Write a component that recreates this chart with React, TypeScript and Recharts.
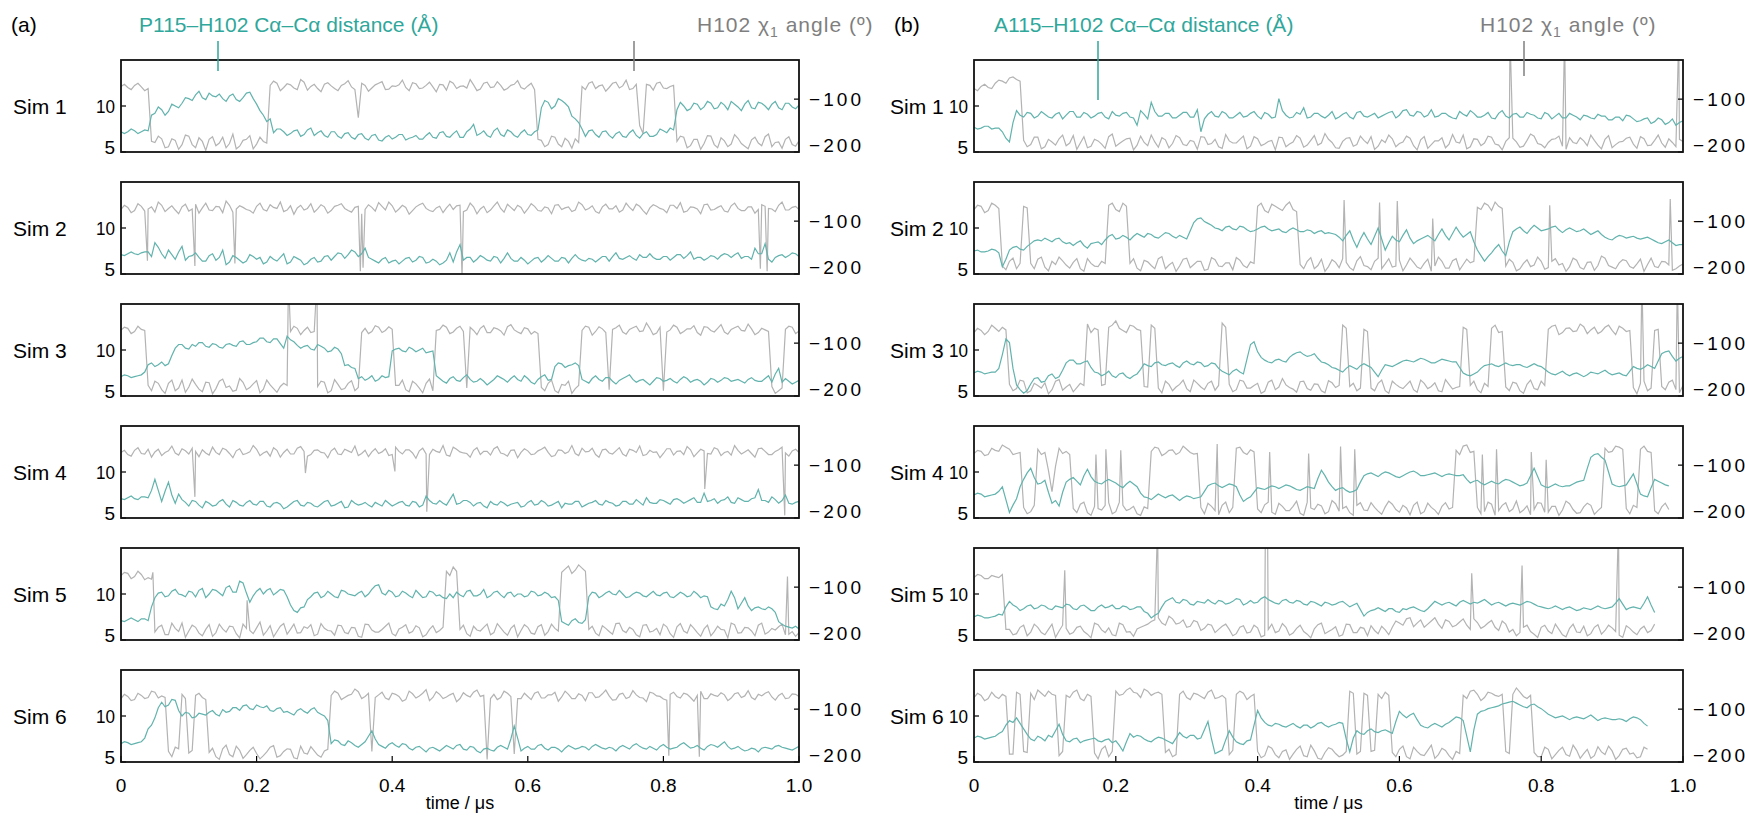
import React from 'react';
import { LineChart, Line, XAxis, YAxis } from 'recharts';

const FONT = '"Liberation Sans", Arial, Helvetica, sans-serif';
const TEAL = '#62b3ad';
const GRAY = '#b3b3b3';
const TEAL_TEXT = '#2fa79b';
const GRAY_TEXT = '#7f7f7f';

// time grid (µs); values between grid points are read at T + HALF
const T = [0,0.01,0.02,0.03,0.04,0.05,0.06,0.07,0.08,0.09,0.1,0.11,0.12,0.13,0.14,0.15,0.16,0.17,0.18,0.19,0.2,0.21,0.22,0.23,0.24,0.25,0.26,0.27,0.28,0.29,0.3,0.31,0.32,0.33,0.34,0.35,0.36,0.37,0.38,0.39,0.4,0.41,0.42,0.43,0.44,0.45,0.46,0.47,0.48,0.49,0.5,0.51,0.52,0.53,0.54,0.55,0.56,0.57,0.58,0.59,0.6,0.61,0.62,0.63,0.64,0.65,0.66,0.67,0.68,0.69,0.7,0.71,0.72,0.73,0.74,0.75,0.76,0.77,0.78,0.79,0.8,0.81,0.82,0.83,0.84,0.85,0.86,0.87,0.88,0.89,0.9,0.91,0.92,0.93,0.94,0.95,0.96,0.97,0.98,0.99,1];
const HALF = 0.005;
const X_TICKS = [0, 0.2, 0.4, 0.6, 0.8, 1.0];
const X_TICK_LABELS = ['0', '0.2', '0.4', '0.6', '0.8', '1.0'];
const DIST_TICKS = [5, 10];
const CHI_TICKS = [-200, -100];
const SIM_LABELS = ['Sim 1', 'Sim 2', 'Sim 3', 'Sim 4', 'Sim 5', 'Sim 6'];

// ---------- (a) P115 ----------
const a1Dist = [7.2,7.2,7.3,7.2,7.3,9.2,9.6,9.4,10.0,10.3,10.8,11.2,10.9,11.4,11.0,10.8,11.1,10.7,10.9,11.5,10.2,9.0,8.6,7.5,7.2,7.0,7.4,6.9,7.6,7.1,6.8,7.2,6.7,7.0,6.6,6.9,6.5,6.8,6.3,6.6,6.4,6.9,6.3,6.6,6.4,6.8,6.6,7.1,6.7,7.0,6.6,7.2,8.0,7.0,6.8,7.3,6.9,7.4,6.8,7.1,6.9,7.2,9.8,10.4,10.0,10.6,9.9,8.6,7.5,7.3,6.9,7.2,6.8,7.0,6.7,7.1,6.8,7.0,6.7,6.9,7.3,7.6,9.6,10.0,9.7,10.2,9.9,10.3,9.8,10.1,10.5,9.9,10.2,9.8,10.4,10.0,10.2,9.8,10.3,9.9,10.1];
const a1DistMid = [7.0,7.5,7.0,7.4,9.0,9.9,9.0,10.2,9.8,10.9,10.6,11.6,10.7,11.1,11.3,10.5,11.3,10.5,11.4,10.8,9.5,8.3,7.1,7.5,6.8,7.3,6.7,7.4,6.8,7.3,6.6,7.2,6.5,7.1,6.4,7.0,6.3,6.9,6.2,6.8,6.6,6.9,6.5,6.8,6.4,7.1,6.5,7.2,6.6,7.3,6.6,7.5,6.8,7.3,6.6,7.6,6.7,7.2,6.6,7.4,6.8,7.4,10.6,9.7,10.8,10.3,8.9,8.2,6.7,7.4,6.6,7.3,6.5,7.2,6.6,7.4,6.5,7.2,6.7,7.5,7.1,7.4,10.4,9.5,10.3,9.6,10.5,9.7,10.4,9.6,10.2,9.5,10.6,9.7,10.3,9.6,10.5,9.6,10.3,9.7];
const a1Chi = [-76,-78,-74,-77,-80,-182,-175,-190,-178,-186,-170,-192,-180,-176,-188,-172,-184,-194,-178,-169,-185,-180,-74,-70,-78,-73,-82,-68,-76,-80,-72,-75,-84,-71,-77,-135,-74,-79,-70,-82,-75,-73,-78,-69,-80,-74,-77,-72,-83,-70,-76,-79,-73,-81,-68,-77,-74,-80,-72,-78,-75,-82,-178,-186,-172,-190,-180,-175,-76,-70,-80,-73,-78,-68,-75,-82,-72,-165,-74,-70,-79,-76,-180,-172,-188,-176,-184,-170,-192,-179,-185,-174,-189,-177,-183,-171,-190,-181,-176,-186,-179];
const a1ChiMid = [-72,-82,-70,-84,-180,-170,-192,-175,-195,-168,-186,-173,-197,-171,-183,-192,-166,-189,-176,-194,-172,-183,-66,-84,-71,-79,-63,-83,-72,-86,-69,-80,-74,-65,-82,-70,-85,-73,-67,-81,-76,-64,-84,-71,-79,-68,-86,-73,-66,-80,-75,-63,-84,-70,-78,-67,-83,-74,-65,-81,-70,-176,-190,-170,-185,-174,-193,-182,-82,-67,-75,-85,-70,-79,-64,-80,-150,-72,-83,-68,-80,-74,-170,-192,-176,-195,-169,-186,-173,-190,-167,-184,-194,-172,-188,-166,-182,-193,-171,-189];
const a1Extra: number[][] = [];

const a2Dist = [7.1,7.2,7.2,7.3,7.4,8.4,7.2,7.6,6.6,8.0,6.9,7.3,6.4,7.0,6.5,7.6,6.3,6.8,6.2,7.1,6.6,6.1,6.9,6.4,7.2,6.3,6.7,6.0,6.6,6.3,6.9,6.5,7.3,6.7,7.6,6.9,7.8,6.6,6.2,6.8,6.4,6.1,6.7,6.3,6.9,6.2,6.6,6.0,6.5,6.3,8.2,6.8,6.3,7.0,6.5,6.9,6.2,7.3,6.4,6.8,6.1,6.7,6.3,7.0,6.4,6.8,6.2,7.1,6.5,6.7,6.3,6.9,6.4,7.3,6.6,7.0,6.5,6.8,7.2,6.6,6.9,6.5,7.1,6.7,7.4,6.8,6.5,7.0,6.6,7.2,6.8,7.3,6.9,6.6,7.2,8.3,6.3,7.0,6.8,7.3,6.9];
const a2DistMid = [7.0,7.4,7.1,7.4,6.9,7.9,6.7,7.1,7.4,6.5,7.0,6.8,6.4,7.2,6.8,6.0,7.0,6.5,6.4,6.9,6.8,6.3,6.6,6.8,6.1,6.9,6.5,6.2,6.8,6.4,7.0,6.9,7.2,7.1,7.4,7.2,6.8,6.4,6.6,6.2,6.5,6.4,6.8,6.5,6.8,6.3,6.4,6.2,7.3,7.4,6.5,6.8,6.6,6.8,6.4,6.8,6.7,6.7,6.4,6.5,6.4,6.8,6.6,6.7,6.4,6.7,6.7,6.7,6.4,6.6,6.6,6.9,6.9,6.7,6.8,6.7,7.1,6.8,6.8,6.6,6.9,6.8,7.1,7.0,6.6,6.8,6.7,6.9,7.0,7.1,7.1,6.7,6.9,7.8,7.2,6.6,6.8,7.1,7.0,7.2];
const a2Chi = [-78,-74,-80,-72,-77,-83,-70,-76,-79,-73,-81,-68,-75,-79,-72,-84,-70,-77,-74,-80,-72,-78,-69,-76,-82,-71,-75,-79,-67,-77,-73,-80,-70,-76,-83,-72,-78,-74,-65,-79,-71,-77,-74,-80,-69,-76,-82,-72,-75,-78,-70,-79,-73,-77,-84,-71,-76,-68,-80,-74,-77,-72,-81,-75,-70,-78,-73,-79,-69,-76,-82,-73,-77,-71,-79,-74,-68,-80,-75,-72,-78,-70,-76,-83,-73,-77,-69,-79,-74,-81,-71,-76,-80,-73,-78,-72,-77,-70,-79,-74,-78];
const a2ChiMid = [-70,-84,-67,-81,-73,-64,-82,-71,-86,-68,-77,-85,-66,-80,-73,-62,-83,-71,-78,-85,-66,-81,-74,-64,-79,-87,-70,-76,-83,-69,-85,-72,-67,-80,-74,-86,-69,-81,-72,-64,-83,-70,-87,-73,-66,-80,-75,-84,-68,-71,-82,-66,-86,-72,-79,-64,-83,-74,-70,-85,-67,-80,-73,-86,-69,-75,-82,-64,-79,-71,-85,-68,-77,-83,-66,-80,-72,-87,-69,-76,-84,-70,-65,-81,-74,-86,-68,-78,-71,-83,-66,-80,-73,-85,-69,-76,-82,-64,-79,-72];
const a2Extra = [[0.039,-175],[0.109,-185],[0.168,-180],[0.353,-195],[0.357,-188],[0.503,-205],[0.943,-190],[0.953,-195]];

const a3Dist = [7.1,7.2,7.1,7.3,8.4,8.2,8.7,8.5,10.2,10.6,10.1,10.4,10.8,10.3,10.6,10.2,10.7,10.4,11.0,10.6,10.9,11.3,10.8,11.2,10.2,11.1,10.5,10.4,10.1,10.6,10.2,9.9,10.1,8.3,8.1,6.9,6.7,7.2,6.8,7.0,9.9,10.2,9.8,10.1,10.0,9.7,9.9,6.9,6.4,7.1,6.6,7.3,6.5,6.9,6.2,6.8,7.0,6.5,7.2,6.6,6.9,6.3,7.1,6.7,8.2,8.5,8.3,8.6,6.8,6.4,7.2,6.6,7.0,6.3,6.9,7.3,6.5,6.8,6.2,7.0,6.6,6.9,6.4,7.1,6.5,6.8,6.2,6.9,6.5,7.0,6.6,6.8,6.4,7.0,6.6,6.9,6.5,8.0,6.9,6.3,6.7];
const a3DistMid = [7.3,7.0,7.2,7.6,8.6,8.4,8.3,9.4,10.6,10.2,10.6,10.8,10.4,10.7,10.3,10.6,10.5,10.9,10.6,10.8,11.3,10.9,11.2,10.7,11.5,10.9,10.2,10.5,10.0,10.4,9.8,10.3,9.6,8.4,8.0,7.1,6.9,6.6,7.2,7.1,10.1,9.9,10.3,9.8,10.2,9.8,7.2,6.6,6.9,6.7,7.0,6.8,6.6,6.6,6.5,7.2,6.8,6.9,6.8,7.2,6.5,6.8,7.3,6.8,8.6,8.1,8.4,8.3,6.6,6.9,6.8,7.0,6.6,6.7,7.1,6.8,6.7,6.5,6.6,6.9,6.7,6.6,6.8,6.9,6.7,6.6,6.5,6.8,6.7,6.9,6.7,6.6,6.8,6.7,6.6,7.2,7.4,6.5,6.6,6.5];
const a3Chi = [-75,-72,-78,-74,-180,-172,-188,-176,-190,-170,-183,-178,-192,-175,-186,-168,-181,-189,-174,-184,-171,-187,-179,-193,-176,-78,-72,-76,-80,-182,-174,-190,-178,-186,-171,-184,-72,-78,-70,-76,-74,-180,-188,-172,-185,-176,-190,-74,-70,-79,-68,-185,-76,-72,-80,-71,-77,-69,-75,-82,-73,-78,-184,-176,-190,-178,-172,-186,-76,-70,-78,-73,-188,-71,-79,-74,-68,-77,-72,-81,-190,-75,-70,-78,-73,-80,-69,-76,-72,-79,-74,-68,-77,-73,-80,-75,-182,-190,-74,-70,-77];
const a3ChiMid = [-70,-82,-68,-76,-190,-176,-195,-170,-185,-193,-168,-187,-174,-196,-172,-184,-191,-167,-188,-177,-194,-170,-186,-182,-180,-68,-84,-70,-78,-172,-194,-169,-188,-176,-190,-80,-82,-67,-80,-69,-180,-170,-192,-177,-194,-168,-76,-66,-82,-72,-78,-70,-84,-67,-80,-73,-85,-65,-79,-71,-83,-82,-190,-170,-194,-180,-195,-180,-68,-85,-69,-80,-74,-66,-83,-71,-78,-62,-84,-70,-79,-66,-82,-73,-67,-85,-70,-79,-65,-83,-71,-76,-64,-84,-72,-78,-195,-185,-68,-82];
const a3Extra = [[0.247, 20],[0.289, 20]];

const a4Dist = [7.1,7.2,7.1,7.3,7.2,9.2,6.8,8.9,6.6,7.0,6.3,6.8,6.1,6.6,6.4,7.0,6.2,6.7,6.3,6.9,6.4,6.8,6.2,6.7,6.0,6.5,6.9,6.3,6.6,6.2,6.8,6.3,6.6,6.1,6.9,6.4,6.7,6.2,6.5,6.9,6.3,6.7,6.4,6.8,6.2,7.4,6.6,6.9,6.4,7.6,6.6,6.9,6.3,6.7,6.1,6.5,6.8,6.3,6.6,6.2,6.7,6.4,6.9,6.3,6.6,6.1,6.5,6.8,6.2,6.6,6.9,6.4,6.7,6.3,6.8,6.5,7.0,6.4,6.7,6.6,6.9,6.5,7.1,6.6,7.0,6.7,7.7,6.9,6.6,7.0,6.7,7.2,6.8,7.1,8.1,6.9,7.3,6.6,7.5,6.5,6.8];
const a4DistMid = [7.0,7.4,7.0,7.3,8.0,8.0,7.9,7.5,7.6,6.7,6.9,6.4,6.8,6.3,6.8,6.5,6.9,6.4,6.7,6.5,6.8,6.3,6.6,6.5,6.2,6.8,6.4,6.7,6.3,6.5,6.9,6.4,6.8,6.2,6.6,6.5,6.4,6.7,6.3,6.6,6.5,6.8,6.3,6.7,6.4,6.9,6.5,6.6,7.0,6.5,6.9,6.7,6.6,6.3,6.8,6.4,6.6,6.5,6.7,6.3,6.9,6.5,6.7,6.4,6.8,6.6,6.5,6.8,6.4,6.7,6.5,6.9,6.6,6.4,6.8,6.5,6.7,7.2,6.6,7.0,6.7,7.0,6.9,6.8,7.2,6.7,6.8,7.1,6.9,7.3,6.6,7.0,6.8,7.2,6.9,6.7,7.0,6.9,6.6,6.7];
const a4Chi = [-76,-80,-72,-78,-70,-75,-82,-73,-77,-69,-79,-74,-71,-81,-76,-68,-78,-73,-80,-75,-70,-77,-83,-72,-76,-79,-68,-74,-80,-71,-77,-73,-79,-70,-76,-82,-72,-75,-78,-69,-80,-74,-71,-77,-73,-79,-70,-76,-81,-66,-75,-78,-72,-80,-74,-69,-77,-83,-71,-76,-73,-79,-70,-76,-82,-72,-75,-78,-68,-74,-80,-71,-77,-73,-79,-70,-76,-82,-72,-75,-78,-69,-74,-80,-71,-77,-73,-79,-70,-76,-81,-72,-75,-78,-69,-74,-80,-71,-77,-73,-76];
const a4ChiMid = [-72,-83,-67,-79,-85,-70,-76,-64,-81,-73,-68,-84,-77,-66,-80,-71,-86,-69,-78,-63,-82,-74,-67,-85,-70,-79,-65,-83,-72,-76,-86,-68,-80,-73,-64,-78,-84,-69,-75,-82,-66,-79,-71,-87,-68,-80,-74,-63,-83,-70,-77,-85,-67,-74,-81,-65,-79,-72,-86,-69,-80,-73,-66,-84,-71,-78,-63,-82,-75,-68,-85,-70,-79,-67,-83,-72,-64,-80,-76,-86,-69,-81,-73,-65,-84,-70,-78,-67,-82,-74,-63,-79,-71,-85,-68,-80,-74,-66,-83,-70];
const a4Extra = [[0.109,-160],[0.272,-115],[0.404,-112],[0.451,-188],[0.861,-145],[0.979,-195]];

const a5Dist = [7.1,7.2,7.2,7.3,7.1,9.6,10.2,9.8,10.5,9.9,10.3,9.7,10.6,10.0,10.4,9.8,10.9,10.2,11.2,9.1,10.3,10.0,10.6,10.2,10.4,8.8,8.0,8.6,9.7,10.2,9.8,10.0,9.6,10.3,9.9,10.1,9.7,10.5,11.0,9.9,10.2,9.8,10.1,9.6,10.0,9.7,10.2,9.9,9.5,9.6,9.9,10.3,9.8,10.0,9.6,10.2,9.9,10.1,9.7,10.0,9.8,10.2,9.9,10.0,9.7,7.0,6.6,7.3,6.8,9.7,10.1,9.8,10.3,9.9,10.0,9.7,10.2,9.8,10.0,9.9,10.1,9.7,9.9,10.0,9.8,10.0,9.8,8.6,8.3,8.7,10.3,8.4,9.6,8.2,8.6,8.3,8.4,7.0,6.5,6.3,6.2];
const a5DistMid = [7.0,7.4,7.0,7.3,8.6,10.1,9.7,10.3,10.0,9.7,10.2,10.4,9.6,10.5,10.1,10.7,10.2,11.4,10.1,9.8,10.6,10.4,9.9,10.5,9.7,8.2,8.5,9.4,10.1,9.6,10.3,9.7,10.4,10.0,9.8,10.3,10.0,10.9,10.1,10.4,9.7,10.3,9.8,10.4,9.6,10.3,9.8,9.6,10.0,10.2,9.7,10.4,9.8,10.5,9.8,10.3,9.6,10.2,10.0,9.7,10.3,9.8,10.2,9.6,9.3,6.8,7.1,6.9,7.2,10.2,9.6,10.1,10.0,10.4,9.6,10.0,10.1,9.7,10.3,9.8,10.2,9.6,10.2,9.7,10.3,9.6,9.7,8.4,8.9,9.4,9.6,9.0,8.7,8.5,8.4,8.6,8.0,6.7,6.4,6.5];
const a5Chi = [-78,-74,-80,-76,-82,-185,-172,-190,-178,-168,-183,-176,-192,-171,-186,-179,-174,-188,-170,-182,-177,-191,-173,-184,-169,-180,-187,-175,-171,-189,-178,-183,-172,-186,-176,-193,-170,-181,-185,-174,-188,-179,-171,-184,-177,-190,-173,-182,-70,-62,-180,-188,-174,-183,-170,-186,-177,-191,-172,-182,-176,-189,-171,-184,-178,-72,-60,-68,-64,-180,-187,-173,-184,-169,-182,-176,-190,-172,-185,-178,-170,-188,-175,-183,-171,-186,-179,-192,-174,-181,-168,-187,-176,-183,-172,-189,-178,-175,-190,-184,-186];
const a5ChiMid = [-72,-84,-70,-86,-85,-176,-190,-168,-184,-195,-172,-187,-180,-193,-170,-185,-175,-196,-178,-188,-166,-183,-194,-174,-189,-170,-186,-178,-192,-169,-182,-191,-173,-188,-177,-195,-171,-185,-180,-168,-192,-176,-187,-173,-194,-180,-186,-176,-78,-70,-172,-193,-181,-176,-190,-169,-185,-178,-194,-171,-187,-175,-191,-170,-183,-66,-74,-58,-70,-174,-192,-178,-189,-168,-186,-180,-194,-171,-183,-190,-175,-195,-169,-187,-178,-193,-172,-184,-180,-196,-171,-186,-177,-192,-168,-185,-181,-170,-189,-193];
const a5Extra = [[0.047,-72],[0.186,-125],[0.983,-80]];

const a6Dist = [7.0,7.1,7.0,7.2,8.6,9.8,11.5,11.2,11.7,10.0,10.3,9.9,10.2,10.4,10.2,10.7,10.5,10.9,11.1,10.8,11.2,10.9,10.6,10.8,10.4,10.3,10.6,10.5,10.7,10.4,10.0,7.0,7.3,6.8,7.1,6.6,7.2,8.4,6.9,6.5,7.1,6.6,6.9,6.3,6.7,6.1,6.6,6.2,6.8,6.4,6.9,6.3,6.6,6.0,6.5,6.2,6.8,6.4,8.9,6.2,6.7,6.4,6.9,6.3,6.6,6.1,6.8,6.4,6.7,6.3,6.9,6.5,6.6,6.2,6.8,6.4,7.0,6.5,6.7,6.3,6.9,6.4,6.6,7.1,6.5,6.8,6.3,6.9,6.6,7.2,6.4,6.7,6.2,6.5,6.1,6.6,6.4,6.8,6.5,6.3,6.7];
const a6DistMid = [7.2,6.9,7.1,7.6,9.0,10.9,11.0,11.8,10.6,10.4,9.8,10.3,10.1,10.6,10.0,10.4,10.9,10.6,11.2,10.7,11.0,11.1,10.5,10.9,10.5,10.1,10.8,10.3,10.9,10.2,9.5,7.4,6.9,7.3,6.8,6.9,7.8,7.5,6.7,6.9,6.8,7.0,6.5,6.6,6.4,6.5,6.4,6.5,6.6,6.8,6.4,6.7,6.2,6.4,6.3,6.6,6.6,7.5,7.6,6.5,6.4,6.8,6.5,6.6,6.4,6.5,6.6,6.5,6.6,6.7,6.7,6.4,6.5,6.6,6.6,6.8,6.7,6.4,6.5,6.7,6.6,6.5,6.9,6.8,6.6,6.5,6.7,6.8,6.9,6.7,6.5,6.4,6.3,6.4,6.5,6.5,6.7,6.6,6.4,6.5];
const a6Chi = [-80,-76,-82,-74,-78,-68,-75,-180,-172,-72,-183,-74,-78,-182,-190,-175,-186,-170,-193,-178,-184,-188,-172,-191,-180,-176,-194,-183,-171,-187,-179,-74,-70,-78,-72,-67,-76,-180,-73,-79,-70,-76,-82,-71,-75,-63,-78,-72,-77,-70,-80,-74,-68,-76,-195,-72,-78,-70,-185,-80,-76,-70,-79,-73,-68,-77,-72,-80,-74,-69,-78,-71,-75,-82,-70,-77,-73,-79,-68,-75,-81,-72,-76,-70,-78,-74,-80,-71,-76,-73,-79,-69,-75,-78,-72,-70,-77,-74,-80,-71,-76];
const a6ChiMid = [-72,-84,-70,-80,-66,-79,-78,-190,-175,-80,-178,-70,-82,-174,-195,-168,-190,-178,-186,-172,-194,-181,-169,-188,-175,-192,-170,-185,-179,-191,-176,-66,-82,-74,-62,-80,-70,-78,-68,-82,-72,-85,-66,-79,-70,-84,-67,-80,-73,-86,-69,-77,-64,-74,-80,-82,-66,-76,-80,-70,-82,-67,-79,-73,-85,-66,-80,-71,-84,-69,-77,-64,-83,-72,-80,-65,-78,-86,-70,-76,-83,-68,-79,-72,-85,-66,-80,-74,-69,-84,-71,-78,-65,-82,-75,-67,-83,-70,-79,-72];
const a6Extra = [[0.808,-188],[0.853,-190]];

// ---------- (b) A115 ----------
const b1Dist = [7.7,7.6,7.8,7.6,7.2,6.1,9.5,8.8,9.2,8.9,9.1,8.7,9.3,9.0,9.4,8.8,9.1,8.9,9.3,8.6,9.0,9.2,8.8,7.9,9.1,10.4,8.9,9.2,8.7,9.0,9.3,8.8,7.2,9.1,8.9,9.4,8.7,9.0,8.8,9.2,8.9,9.3,8.7,10.8,9.0,8.8,9.1,8.7,9.2,8.9,9.0,8.6,9.1,8.8,9.3,8.9,9.0,8.7,9.1,9.4,9.0,9.6,8.9,9.3,9.0,8.8,9.2,8.9,8.6,9.1,9.5,8.8,9.0,8.7,9.2,8.9,9.1,8.8,9.3,9.0,8.6,9.1,8.9,8.7,9.2,8.8,9.0,8.7,9.1,8.9,8.5,8.8,9.0,8.6,8.4,8.7,8.3,8.5,8.2,7.9,8.4];
const b1DistMid = [7.5,7.8,7.5,7.6,6.5,8.2,9.0,9.3,8.7,9.4,8.8,9.1,8.6,9.4,8.8,9.3,8.7,9.2,8.8,9.4,8.9,9.3,8.7,9.5,8.6,9.4,8.9,9.2,8.7,9.3,8.8,9.6,8.6,9.4,8.8,9.2,8.7,9.3,8.9,9.4,8.6,9.1,8.8,9.5,8.7,9.3,9.8,8.8,9.2,8.7,9.4,8.8,9.3,8.6,9.4,8.8,9.2,8.9,9.3,8.7,9.5,9.0,9.4,8.8,9.6,8.9,9.2,8.7,9.4,8.9,9.2,8.8,9.3,8.6,9.5,8.7,9.2,8.8,9.1,8.7,9.3,8.6,9.2,8.7,9.0,8.5,8.9,8.6,8.9,8.5,8.8,8.4,8.9,8.3,8.6,8.1,8.7,8.0,8.6,8.2];
const b1Chi = [-80,-76,-78,-70,-66,-60,-63,-178,-186,-172,-190,-181,-175,-188,-169,-183,-192,-176,-185,-171,-189,-179,-174,-187,-182,-168,-191,-177,-184,-173,-188,-180,-171,-186,-176,-193,-179,-183,-170,-189,-175,-185,-178,-172,-190,-181,-174,-187,-169,-183,-176,-192,-180,-173,-186,-178,-171,-189,-182,-175,-184,-170,-188,-177,-193,-179,-173,-185,-181,-168,-190,-176,-183,-172,-187,-180,-174,-191,-178,-170,-186,-182,-175,-189,-173,-184,-179,-168,-187,-176,-192,-181,-174,-185,-171,-188,-178,-183,-175,-190,-180];
const b1ChiMid = [-84,-72,-80,-64,-70,-58,-66,-190,-172,-194,-176,-187,-168,-183,-195,-171,-189,-179,-193,-166,-184,-175,-196,-170,-188,-181,-173,-192,-169,-186,-178,-195,-172,-184,-190,-167,-183,-176,-194,-171,-188,-180,-196,-173,-185,-169,-191,-178,-187,-165,-182,-193,-174,-189,-170,-184,-195,-177,-168,-190,-181,-174,-196,-171,-186,-179,-192,-167,-183,-194,-175,-188,-170,-185,-196,-173,-181,-189,-166,-184,-192,-176,-170,-195,-182,-173,-188,-178,-194,-169,-186,-180,-172,-193,-175,-187,-168,-191,-182,-176];
const b1Extra = [[0.756, 20],[0.833, 20],[0.994, 20]];

const b2Dist = [7.5,7.4,7.5,7.6,5.8,7.6,8.0,7.6,8.3,8.7,8.9,8.5,8.9,8.3,8.1,8.6,7.8,8.4,8.2,9.1,8.8,9.2,8.7,9.4,9.0,9.3,8.9,9.5,9.1,9.2,8.8,10.6,11.1,10.5,10.0,9.7,10.2,9.8,10.1,9.6,9.9,10.2,9.7,9.9,9.5,10.0,9.6,9.8,9.4,9.7,9.5,9.3,8.6,9.7,7.9,9.5,8.2,10.0,7.6,9.1,8.5,9.8,8.3,8.8,9.2,8.6,9.9,8.7,10.1,9.0,9.6,7.6,6.4,7.3,8.2,7.0,9.6,10.1,9.4,10.3,9.7,9.9,10.2,9.5,10.0,9.6,9.9,9.3,9.7,9.0,8.7,9.2,8.9,9.1,8.8,9.0,8.6,8.3,8.7,8.1,8.2];
const b2DistMid = [7.6,7.4,7.7,7.3,6.6,7.9,7.7,8.0,8.6,8.6,8.7,8.8,8.5,8.4,8.4,8.1,8.3,8.5,8.7,9.3,8.9,9.0,9.1,9.2,9.4,9.0,9.2,9.4,8.9,9.0,9.7,11.0,10.7,10.3,9.9,10.1,9.9,10.2,9.8,9.7,10.1,9.9,9.8,9.6,9.8,9.8,9.6,9.7,9.6,9.4,9.4,9.0,9.2,8.7,8.8,8.8,9.1,8.8,8.4,8.7,9.2,8.9,8.6,9.0,8.9,9.3,9.2,9.4,9.5,9.3,8.5,7.0,6.9,7.8,7.5,8.5,9.9,9.7,9.9,10.0,9.8,10.1,9.8,9.8,9.8,9.7,9.6,9.5,9.3,8.8,9.0,9.1,9.0,8.9,8.9,8.8,8.4,8.5,8.4,8.2];
const b2Chi = [-78,-72,-80,-70,-185,-176,-190,-72,-180,-172,-187,-176,-168,-183,-178,-190,-171,-185,-176,-70,-78,-66,-180,-189,-174,-184,-171,-190,-178,-185,-170,-182,-176,-191,-173,-186,-179,-169,-184,-177,-72,-80,-68,-76,-70,-78,-182,-176,-190,-172,-186,-178,-171,-188,-175,-184,-192,-170,-181,-187,-174,-183,-178,-190,-172,-185,-176,-189,-171,-182,-179,-74,-66,-80,-72,-185,-178,-190,-173,-183,-176,-188,-171,-180,-186,-174,-191,-177,-184,-170,-187,-179,-175,-189,-172,-182,-186,-176,-183,-190,-181];
const b2ChiMid = [-70,-84,-66,-76,-192,-170,-180,-75,-190,-168,-194,-182,-175,-189,-171,-195,-180,-186,-180,-66,-82,-72,-171,-194,-177,-190,-167,-183,-195,-172,-188,-176,-193,-169,-185,-179,-192,-174,-188,-180,-66,-84,-72,-80,-64,-82,-190,-169,-184,-195,-173,-188,-178,-193,-167,-186,-176,-190,-171,-185,-194,-170,-187,-180,-195,-168,-189,-175,-192,-172,-176,-78,-70,-64,-76,-172,-194,-180,-186,-168,-191,-176,-183,-195,-170,-188,-178,-193,-166,-184,-190,-173,-186,-181,-195,-170,-188,-177,-193,-185];
const b2Extra = [[0.522,-60],[0.572,-65],[0.597,-62],[0.647,-95],[0.812,-70],[0.982,-58]];

const b3Dist = [7.5,7.6,7.5,7.6,9.5,10.8,6.2,5.3,6.3,7.0,6.6,7.4,7.1,8.6,8.9,8.5,8.8,7.6,7.2,7.7,7.0,7.5,6.9,7.4,8.5,8.2,8.7,8.3,8.6,8.1,8.8,8.4,8.6,8.3,8.5,7.7,7.3,7.9,7.4,10.6,9.8,8.9,8.6,9.0,8.7,9.5,9.8,9.3,9.6,8.7,8.4,8.0,7.6,8.3,7.9,8.5,8.1,7.1,8.4,8.2,8.6,8.9,8.7,9.1,8.8,8.6,9.0,8.8,8.7,7.5,7.2,7.6,8.3,8.5,8.2,8.6,8.3,8.4,8.1,8.5,8.2,7.6,7.3,7.7,7.2,7.5,7.1,7.6,7.4,7.8,7.3,7.5,7.2,8.2,7.9,8.4,8.0,9.6,9.9,8.8,9.3];
const b3DistMid = [7.7,7.4,7.6,8.0,11.2,8.0,5.7,5.6,6.9,6.5,7.2,6.9,7.8,8.9,8.5,8.7,8.1,7.5,7.4,7.2,7.4,7.1,7.2,7.9,8.3,8.6,8.4,8.5,8.3,8.6,8.5,8.7,8.2,8.6,8.0,7.5,7.7,7.6,9.0,10.9,9.2,8.7,8.9,8.8,9.2,9.7,9.5,9.4,9.1,8.6,8.1,7.8,8.0,8.1,8.3,8.3,7.6,7.8,8.3,8.4,8.8,8.8,8.9,9.0,8.6,8.8,8.9,8.7,8.1,7.3,7.4,8.0,8.4,8.3,8.4,8.4,8.4,8.2,8.3,8.3,7.9,7.4,7.5,7.4,7.4,7.3,7.3,7.5,7.6,7.5,7.4,7.3,7.7,8.0,8.1,8.2,8.8,9.8,9.3,9.1];
const b3Chi = [-80,-76,-78,-72,-70,-178,-186,-172,-190,-180,-175,-188,-169,-183,-192,-176,-64,-72,-180,-70,-58,-76,-66,-74,-182,-66,-185,-172,-190,-178,-186,-170,-183,-176,-189,-62,-178,-188,-172,-185,-176,-191,-170,-183,-179,-187,-173,-186,-177,-190,-171,-184,-66,-182,-190,-74,-185,-176,-190,-172,-183,-179,-188,-170,-186,-175,-192,-178,-184,-70,-180,-188,-176,-72,-80,-183,-174,-190,-178,-186,-172,-74,-66,-80,-71,-77,-69,-75,-82,-70,-76,-68,-78,-184,-176,-190,-76,-182,-174,-188,-180];
const b3ChiMid = [-72,-84,-66,-78,-75,-190,-170,-194,-176,-185,-196,-172,-189,-178,-184,-180,-80,-75,-178,-66,-72,-80,-68,-76,-183,-72,-194,-178,-183,-170,-192,-176,-188,-172,-180,-70,-192,-170,-185,-180,-195,-174,-188,-167,-184,-193,-172,-189,-178,-194,-175,-180,-72,-176,-185,-78,-190,-170,-195,-178,-186,-172,-193,-176,-182,-190,-169,-187,-182,-74,-172,-194,-182,-66,-78,-190,-176,-195,-170,-188,-180,-68,-84,-72,-78,-64,-82,-70,-78,-66,-84,-72,-76,-196,-172,-185,-74,-188,-170,-194];
const b3Extra = [[0.942, 20],[0.992, 20]];

const b4Dist = [7.5,7.6,7.4,7.6,8.4,5.6,7.1,9.2,10.4,8.7,9.1,6.6,6.3,8.9,9.4,8.6,10.3,9.0,8.7,9.2,8.8,8.3,9.0,8.4,7.3,7.0,7.6,7.2,7.5,6.9,7.4,7.1,7.3,8.5,8.8,8.3,8.7,8.4,6.8,7.3,8.3,8.1,8.5,8.2,8.6,8.3,8.0,8.4,8.2,10.2,8.9,8.0,8.3,7.8,8.1,9.6,9.9,9.5,10.0,9.7,9.4,9.8,10.1,9.6,9.7,9.9,9.5,9.8,9.6,9.7,8.8,9.1,8.6,9.0,8.7,9.2,8.9,8.5,8.8,10.4,8.6,8.3,8.7,8.4,8.5,8.9,9.1,11.6,12.0,11.3,8.7,8.4,8.6,9.8,7.6,7.3,9.2,8.8,8.5];
const b4DistMid = [7.7,7.3,7.5,7.9,7.0,6.4,8.4,9.9,9.4,8.8,7.8,6.9,7.8,9.2,9.0,9.6,9.5,8.8,9.0,9.0,8.5,8.7,8.7,7.7,7.2,7.3,7.4,7.4,7.2,7.2,7.3,7.2,7.9,8.7,8.5,8.5,8.6,7.5,7.1,7.8,8.2,8.3,8.4,8.4,8.5,8.1,8.2,8.3,9.3,9.6,8.4,8.2,8.0,7.9,8.9,9.8,9.7,9.8,9.9,9.5,9.6,10.0,9.9,9.6,9.8,9.7,9.7,9.7,9.6,9.2,9.0,8.8,8.8,8.8,9.0,9.1,8.7,8.6,9.6,9.5,8.4,8.5,8.5,8.5,8.7,9.0,10.4,11.9,11.6,10.0,8.5,8.5,9.2,8.7,7.4,8.3,9.0,8.6];
const b4Chi = [-78,-74,-80,-72,-62,-70,-78,-180,-188,-70,-76,-150,-68,-74,-182,-174,-190,-178,-185,-171,-188,-176,-183,-192,-179,-74,-68,-78,-71,-76,-70,-79,-180,-172,-186,-176,-190,-68,-76,-71,-183,-175,-189,-172,-186,-178,-191,-170,-184,-177,-188,-173,-182,-190,-176,-185,-171,-187,-179,-174,-189,-181,-176,-192,-172,-185,-178,-183,-72,-64,-76,-180,-188,-174,-186,-171,-183,-190,-177,-184,-172,-189,-178,-185,-173,-191,-179,-176,-186,-68,-74,-66,-182,-176,-70,-74,-186,-179,-184];
const b4ChiMid = [-72,-82,-68,-74,-66,-80,-76,-192,-176,-80,-110,-102,-78,-80,-190,-170,-195,-182,-176,-192,-170,-186,-178,-195,-182,-66,-82,-72,-80,-64,-76,-78,-192,-178,-194,-170,-180,-66,-80,-75,-190,-170,-193,-178,-186,-168,-195,-181,-174,-192,-167,-187,-178,-195,-171,-186,-180,-193,-168,-184,-176,-194,-170,-188,-180,-193,-171,-180,-80,-62,-74,-192,-170,-195,-176,-188,-168,-185,-194,-171,-189,-178,-195,-168,-184,-190,-172,-193,-180,-76,-64,-70,-192,-180,-64,-76,-192,-172];
const b4Extra = [[0.172,-80],[0.186,-70],[0.207,-72],[0.343,-60],[0.417,-75],[0.472,-78],[0.517,-65],[0.537,-70],[0.717,-80],[0.737,-70],[0.786,-75],[0.807,-90]];

const b5Dist = [7.5,7.6,7.4,7.6,7.7,9.2,8.6,8.4,8.8,8.5,8.7,8.3,8.6,8.9,8.4,8.7,8.5,8.2,8.8,8.6,8.4,8.7,8.3,8.6,8.1,7.4,7.9,9.2,9.6,9.0,9.3,8.8,9.1,9.4,8.9,9.2,9.0,9.5,8.8,9.3,9.1,9.7,9.2,8.9,9.4,9.0,9.2,8.8,9.1,8.7,9.0,8.9,9.2,8.6,9.0,7.6,8.2,8.5,8.1,8.4,8.0,8.3,8.6,8.2,8.4,9.2,8.8,9.1,8.7,9.3,8.9,9.0,9.4,8.8,9.1,8.7,9.0,8.8,9.2,8.9,8.6,8.4,8.7,8.3,8.6,8.2,8.5,8.3,8.7,8.4,8.6,9.5,8.3,8.6,8.4,9.7,8.0];
const b5DistMid = [7.7,7.4,7.5,7.8,8.6,8.8,8.2,8.7,8.4,8.8,8.4,8.7,8.5,8.8,8.3,8.8,8.2,8.6,8.5,8.8,8.4,8.6,8.4,8.6,7.9,7.7,8.6,9.4,9.1,9.4,8.9,9.2,9.0,9.1,9.3,8.9,9.2,9.4,9.0,9.0,9.5,9.4,9.0,9.3,9.1,9.3,8.9,9.2,8.9,9.1,8.8,9.1,8.9,8.8,8.3,8.0,8.3,8.3,8.4,8.1,8.4,8.5,8.4,8.1,8.8,9.0,9.0,8.9,9.1,9.1,9.1,9.2,9.1,9.0,8.9,8.9,8.9,9.0,9.1,8.7,8.5,8.5,8.5,8.5,8.4,8.3,8.4,8.5,8.5,8.5,9.0,8.9,8.5,8.5,9.0,8.8];
const b5Chi = [-82,-78,-84,-80,-76,-180,-188,-172,-185,-176,-190,-170,-183,-178,-186,-174,-189,-168,-181,-177,-192,-171,-184,-179,-173,-165,-158,-172,-160,-168,-176,-163,-182,-170,-186,-174,-180,-188,-173,-185,-177,-191,-170,-183,-176,-187,-172,-189,-179,-168,-184,-175,-190,-171,-186,-178,-173,-188,-181,-176,-168,-160,-175,-162,-170,-158,-178,-165,-172,-160,-180,-167,-174,-163,-182,-170,-180,-186,-172,-189,-176,-183,-170,-190,-178,-185,-174,-188,-171,-182,-177,-191,-173,-185,-179,-186,-170];
const b5ChiMid = [-76,-84,-78,-82,-180,-190,-176,-192,-170,-186,-180,-195,-172,-189,-176,-184,-196,-171,-186,-190,-168,-185,-193,-176,-170,-162,-168,-155,-170,-162,-174,-166,-178,-172,-180,-170,-192,-176,-187,-172,-194,-180,-186,-169,-191,-178,-184,-196,-171,-188,-180,-193,-170,-186,-176,-192,-182,-174,-190,-164,-172,-158,-168,-176,-164,-170,-162,-175,-166,-172,-160,-178,-168,-176,-164,-185,-192,-176,-184,-195,-172,-188,-180,-194,-170,-186,-192,-176,-189,-172,-184,-195,-178,-190,-174,-182];
const b5Extra = [[0.128,-68],[0.259,20],[0.411,20],[0.414,20],[0.702,-74],[0.773,-59],[0.909,20]];

const b6Dist = [7.6,7.7,7.6,7.8,8.3,9.5,9.8,8.6,7.5,7.8,7.3,7.7,9.1,7.3,7.5,7.1,7.4,7.6,7.2,7.5,7.3,6.2,8.1,7.9,7.5,7.2,7.7,7.4,7.0,8.2,7.6,7.9,7.6,9.4,5.9,6.3,8.4,7.2,6.9,7.4,10.6,9.3,8.9,9.1,8.8,9.2,8.7,9.0,8.9,9.3,8.8,9.1,9.2,6.1,8.4,8.0,8.6,8.2,8.5,8.1,10.5,9.8,10.3,9.0,8.7,9.2,8.8,9.3,9.9,9.5,6.1,10.2,10.6,10.9,11.1,11.4,11.6,11.2,10.9,11.3,10.8,10.2,9.8,10.0,9.6,9.9,9.7,10.1,9.5,9.8,9.6,9.7,9.4,9.9,9.6,8.9];
const b6DistMid = [7.8,7.5,7.7,8.1,9.0,9.3,9.2,8.0,7.3,7.6,7.9,8.4,8.0,7.2,7.6,7.3,7.5,7.3,7.4,7.1,6.8,7.2,7.7,7.8,7.3,7.5,7.6,7.2,7.6,7.8,7.9,7.5,8.5,7.5,6.1,7.4,7.7,7.0,7.3,9.0,9.8,9.0,9.2,8.9,9.0,8.9,9.0,8.7,9.2,9.0,9.0,9.3,7.5,7.6,8.1,8.4,8.3,8.4,8.3,9.4,10.1,10.1,9.6,8.8,9.0,9.0,9.1,9.6,9.8,7.8,8.5,10.5,10.8,11.0,11.3,11.5,11.4,11.0,11.2,11.0,10.5,10.0,9.9,9.8,9.8,9.8,9.9,9.8,9.7,9.7,9.6,9.6,9.7,9.8,9.2];
const b6Chi = [-78,-74,-80,-76,-72,-185,-68,-180,-70,-64,-76,-72,-188,-74,-68,-80,-72,-183,-176,-190,-66,-72,-60,-70,-62,-74,-68,-182,-190,-72,-78,-70,-76,-68,-80,-74,-186,-72,-70,-76,-180,-188,-174,-192,-177,-185,-170,-190,-179,-195,-173,-184,-187,-66,-185,-70,-180,-72,-68,-182,-176,-190,-172,-186,-178,-193,-174,-188,-180,-74,-66,-72,-78,-70,-76,-180,-72,-68,-80,-182,-190,-176,-186,-172,-189,-178,-184,-193,-171,-186,-179,-188,-174,-183,-190,-176];
const b6ChiMid = [-70,-84,-68,-80,-76,-185,-72,-182,-82,-70,-66,-74,-180,-78,-64,-84,-76,-194,-170,-180,-74,-64,-68,-78,-66,-70,-72,-176,-186,-66,-82,-72,-80,-64,-78,-80,-178,-66,-82,-72,-192,-170,-186,-180,-195,-176,-188,-168,-193,-182,-176,-190,-180,-70,-180,-74,-178,-80,-74,-190,-170,-194,-180,-188,-168,-186,-178,-195,-184,-80,-64,-84,-68,-74,-72,-184,-60,-76,-74,-190,-172,-194,-178,-186,-168,-193,-176,-188,-181,-170,-195,-176,-185,-192,-172];
const b6Extra: number[][] = [];

type Row = { t: number; d?: number; g?: number };
function build(dist: number[], distMid: number[], chi: number[], chiMid: number[], extra: number[][]): Row[] {
  const n = Math.min(T.length, Math.max(dist.length, chi.length));
  const rows: Row[] = [];
  for (let i = 0; i < n; i++) {
    const r: Row = { t: T[i] };
    if (i < dist.length) r.d = dist[i];
    if (i < chi.length) r.g = chi[i];
    rows.push(r);
    if (i < n - 1) {
      const m: Row = { t: T[i] + HALF };
      if (i < distMid.length && i < dist.length - 1) m.d = distMid[i];
      if (i < chiMid.length && i < chi.length - 1) m.g = chiMid[i];
      rows.push(m);
    }
  }
  extra.forEach(([t, g]) => rows.push({ t, g }));
  rows.sort((a, b) => a.t - b.t);
  return rows;
}

const PANELS_A = [
  build(a1Dist, a1DistMid, a1Chi, a1ChiMid, a1Extra),
  build(a2Dist, a2DistMid, a2Chi, a2ChiMid, a2Extra),
  build(a3Dist, a3DistMid, a3Chi, a3ChiMid, a3Extra),
  build(a4Dist, a4DistMid, a4Chi, a4ChiMid, a4Extra),
  build(a5Dist, a5DistMid, a5Chi, a5ChiMid, a5Extra),
  build(a6Dist, a6DistMid, a6Chi, a6ChiMid, a6Extra),
];
const PANELS_B = [
  build(b1Dist, b1DistMid, b1Chi, b1ChiMid, b1Extra),
  build(b2Dist, b2DistMid, b2Chi, b2ChiMid, b2Extra),
  build(b3Dist, b3DistMid, b3Chi, b3ChiMid, b3Extra),
  build(b4Dist, b4DistMid, b4Chi, b4ChiMid, b4Extra),
  build(b5Dist, b5DistMid, b5Chi, b5ChiMid, b5Extra),
  build(b6Dist, b6DistMid, b6Chi, b6ChiMid, b6Extra),
];

const ROW_TOPS = [60, 182, 304, 426, 548, 670];
const BOX_H = 92;
const COLS = [
  { x: 121, w: 678, simX: 13 },
  { x: 974, w: 709, simX: 890 },
];

const LW = 50, RW = 75, XH = 50, MT = 12, MB = 14;
const TM_L = 7, TM_R = 10, TM_B = 8;
const TICK_FS = 19;

const LeftTick = (p: any) => {
  const ax = p.x + TM_L;
  const v = p.payload.value;
  return (
    <g>
      <line x1={ax} x2={ax + 5} y1={p.y} y2={p.y} stroke="#000" strokeWidth={1.2} />
      <text x={ax - 6} y={p.y} dy={v === 5 ? 2 : 7} textAnchor="end" fontSize={TICK_FS} fill="#000" fontFamily={FONT}
        {...(v === 10 ? { textLength: 19, lengthAdjust: 'spacingAndGlyphs' } : {})}>{v}</text>
    </g>
  );
};
const RightTick = (p: any) => {
  const ax = p.x - TM_R;
  const v = p.payload.value;
  return (
    <g>
      <line x1={ax - 5} x2={ax} y1={p.y} y2={p.y} stroke="#000" strokeWidth={1.2} />
      <text x={p.x} y={p.y} dy={v === -200 ? 0 : 7} textAnchor="start" fontSize={TICK_FS} fill="#000" fontFamily={FONT}
        textLength={52} lengthAdjust="spacing">{String(v).replace('-', '\u2212')}</text>
    </g>
  );
};
const BottomTick = (p: any) => {
  const ay = p.y - TM_B;
  const idx = X_TICKS.indexOf(p.payload.value);
  return (
    <g>
      <line x1={p.x} x2={p.x} y1={ay} y2={ay - 6} stroke="#000" strokeWidth={1.2} />
      <text x={p.x} y={ay + 30} textAnchor="middle" fontSize={TICK_FS} fill="#000" fontFamily={FONT}>{idx >= 0 ? X_TICK_LABELS[idx] : p.payload.value}</text>
    </g>
  );
};

function Panel({ left, top, w, data, bottom }: { left: number; top: number; w: number; data: Row[]; bottom: boolean }) {
  const xh = bottom ? XH : 0;
  const mb = bottom ? 0 : MB;
  return (
    <div style={{ position: 'absolute', left: left - LW, top: top - MT }}>
      <LineChart width={w + LW + RW} height={MT + BOX_H + xh + mb} data={data} margin={{ top: MT, right: 0, bottom: mb, left: 0 }}>
        <XAxis xAxisId="b" dataKey="t" type="number" domain={[0, 1]} ticks={X_TICKS} interval={0}
          height={xh} tickSize={0} tickMargin={TM_B} tickLine={false}
          tick={bottom ? BottomTick : false} axisLine={false} allowDataOverflow />
        <YAxis yAxisId="d" orientation="left" type="number" domain={[5, 15]} ticks={DIST_TICKS} interval={0}
          width={LW} tickSize={0} tickMargin={TM_L} tickLine={false} tick={LeftTick} axisLine={false} allowDataOverflow />
        <YAxis yAxisId="g" orientation="right" type="number" domain={[-200, -26]} ticks={CHI_TICKS} interval={0}
          width={RW} tickSize={0} tickMargin={TM_R} tickLine={false} tick={RightTick} axisLine={false} allowDataOverflow />
        <Line xAxisId="b" yAxisId="g" type="linear" dataKey="g" stroke={GRAY} strokeWidth={1.2} dot={false}
          isAnimationActive={false} connectNulls />
        <Line xAxisId="b" yAxisId="d" type="linear" dataKey="d" stroke={TEAL} strokeWidth={1.2} dot={false}
          isAnimationActive={false} connectNulls />
      </LineChart>
    </div>
  );
}

export default function App() {
  const all = [PANELS_A, PANELS_B];
  return (
    <div style={{ position: 'absolute', left: 0, top: 0, width: 1745, height: 817, background: '#fff', fontFamily: FONT }}>
      {all.map((panels, c) =>
        panels.map((data, r) => (
          <Panel key={`${c}-${r}`} left={COLS[c].x} top={ROW_TOPS[r]} w={COLS[c].w} data={data} bottom={r === 5} />
        ))
      )}
      <svg width={1745} height={817} style={{ position: 'absolute', left: 0, top: 0, pointerEvents: 'none' }} fontFamily={FONT}>
        {COLS.map((col, c) =>
          ROW_TOPS.map((y, r) => (
            <rect key={`b${c}${r}`} x={col.x} y={y} width={col.w} height={BOX_H} fill="none" stroke="#111" strokeWidth={1.8} />
          ))
        )}
        <text x={11} y={32} fontSize={21} fill="#000">(a)</text>
        <text x={139} y={32} fontSize={21} fill={TEAL_TEXT}>P115–H102 Cα–Cα distance (Å)</text>
        <line x1={218} x2={218} y1={41} y2={71} stroke={TEAL_TEXT} strokeWidth={1.5} />
        <text x={697} y={32} fontSize={21} fill={GRAY_TEXT} letterSpacing={1}>H102 χ<tspan dy={5} fontSize={14}>1</tspan><tspan dy={-5}> angle (º)</tspan></text>
        <line x1={634} x2={634} y1={41} y2={71} stroke={GRAY_TEXT} strokeWidth={1.5} />

        <text x={894} y={32} fontSize={21} fill="#000">(b)</text>
        <text x={994} y={32} fontSize={21} fill={TEAL_TEXT}>A115–H102 Cα–Cα distance (Å)</text>
        <line x1={1098} x2={1098} y1={41} y2={100} stroke={TEAL_TEXT} strokeWidth={1.5} />
        <text x={1480} y={32} fontSize={21} fill={GRAY_TEXT} letterSpacing={1}>H102 χ<tspan dy={5} fontSize={14}>1</tspan><tspan dy={-5}> angle (º)</tspan></text>
        <line x1={1524} x2={1524} y1={41} y2={76} stroke={GRAY_TEXT} strokeWidth={1.5} />

        {COLS.map((col, c) =>
          SIM_LABELS.map((s, r) => (
            <text key={`s${c}${r}`} x={col.simX} y={ROW_TOPS[r] + BOX_H / 2 + 8} fontSize={21} fill="#000">{s}</text>
          ))
        )}
        {COLS.map((col, c) => (
          <text key={`xt${c}`} x={col.x + col.w / 2} y={809} fontSize={18} textAnchor="middle" fill="#000">time / μs</text>
        ))}
      </svg>
    </div>
  );
}
